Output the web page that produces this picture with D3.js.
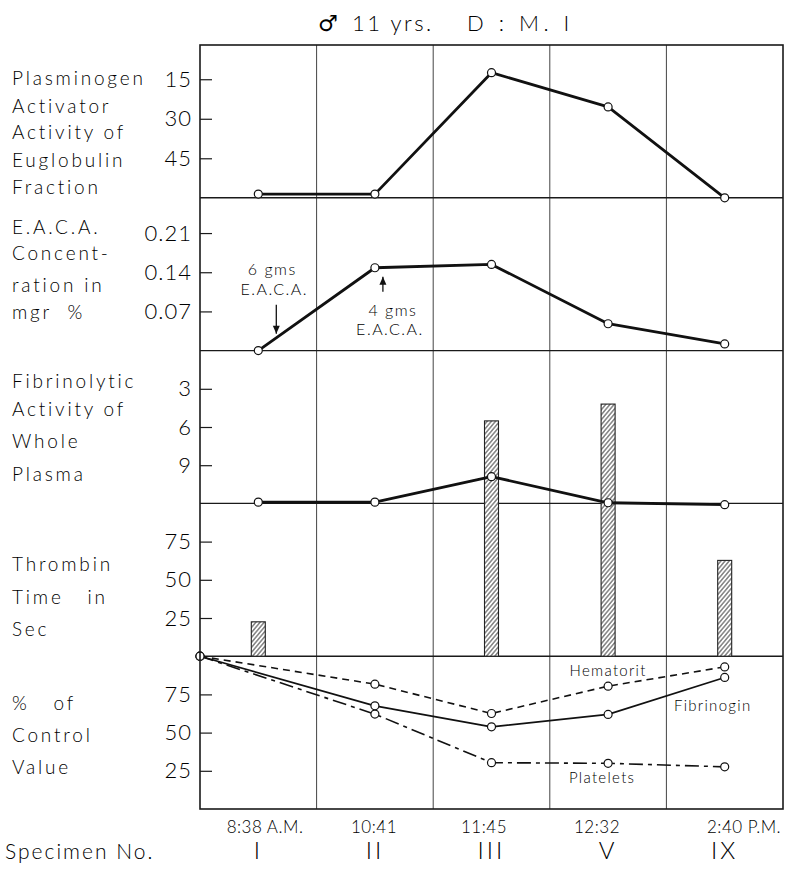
<!DOCTYPE html>
<html>
<head>
<meta charset="utf-8">
<script src="https://cdn.jsdelivr.net/npm/d3@7"></script>
<style>
  html, body { margin: 0; padding: 0; background: #fff; }
  svg { display: block; }
  text { font-family: Lato, "Open Sans", "DejaVu Sans", sans-serif; fill: #000; }
  .lt { font-weight: 300; }
  .sym { font-family: "DejaVu Sans", sans-serif; font-weight: 400; }
</style>
</head>
<body>
<svg id="chart" width="795" height="869"></svg>
<script>
// Specimens drawn across the time course
const specimens = ["I", "II", "III", "V", "IX"];
const sampleTimes = ["8:38 A.M.", "10:41", "11:45", "12:32", "2:40 P.M."];

// Plasminogen activator activity of euglobulin fraction (axis runs downward)
const plasminogenActivity = [58.6, 58.6, 12.5, 25.5, 60];
const plasminogenTicks = [15, 30, 45];

// E.A.C.A. concentration in mgr %
const eacaConcentration = [0.0, 0.148, 0.154, 0.048, 0.012];
const eacaTicks = [0.07, 0.14, 0.21];

// Fibrinolytic activity of whole plasma (axis runs downward)
const fibrinolyticActivity = [11.9, 11.9, 9.9, 11.95, 12.1];
const fibrinolyticTicks = [3, 6, 9];

// Thrombin time in seconds (bars)
const thrombinTime = [22.5, null, 154, 165, 62.7];
const thrombinTicks = [25, 50, 75];

// % of control value, starting from the control at 100 %
const controlPoints = ["Control", "II", "III", "V", "IX"];
const hematorit = [100, 81.7, 62.5, 80.4, 93.0];
const fibrinogin = [100, 67.5, 53.8, 61.9, 86.1];
const platelets = [100, 62.1, 30.3, 29.9, 27.6];
const controlTicks = [25, 50, 75];

const svg = d3.select("#chart");

const plotLeft = 200, plotRight = 783, plotTop = 45, plotBottom = 809;
const panelH = (plotBottom - plotTop) / 5;
const panelTop = i => plotTop + i * panelH;
const panelBottom = i => plotTop + (i + 1) * panelH;

const x = d3.scaleBand().domain(specimens).range([plotLeft, plotRight]).padding(0);
const cx = s => x(s) + x.bandwidth() / 2;
const cxControl = s => s === "Control" ? plotLeft : cx(s);

// Per-panel value scales
const y1 = d3.scaleLinear().domain([2, 60]).range([panelTop(0), panelBottom(0)]);
const y2 = d3.scaleLinear().domain([0, 0.273]).range([panelBottom(1), panelTop(1)]);
const y3 = d3.scaleLinear().domain([0, 12]).range([panelTop(2), panelBottom(2)]);
const y4 = d3.scaleLinear().domain([0, 100]).range([panelBottom(3), panelTop(3)]);
const y5 = d3.scaleLinear().domain([0, 100]).range([panelBottom(4), panelTop(4)]);

// Hatch pattern for the thrombin bars
const defs = svg.append("defs");
const pat = defs.append("pattern")
  .attr("id", "hatch").attr("patternUnits", "userSpaceOnUse")
  .attr("width", 3.2).attr("height", 3.2)
  .attr("patternTransform", "rotate(40)");
pat.append("rect").attr("width", 3.2).attr("height", 3.2).attr("fill", "#fff");
pat.append("line").attr("x1", 0.8).attr("y1", 0).attr("x2", 0.8).attr("y2", 3.2)
  .attr("stroke", "#444").attr("stroke-width", 1);

// Vertical grid lines between specimens
const grid = svg.append("g");
specimens.slice(1).forEach(s => {
  grid.append("line")
    .attr("x1", x(s)).attr("x2", x(s))
    .attr("y1", plotTop).attr("y2", plotBottom)
    .attr("stroke", "#444").attr("stroke-width", 1);
});

// Panel dividers
for (let i = 1; i < 5; i++) {
  svg.append("line")
    .attr("x1", plotLeft).attr("x2", plotRight)
    .attr("y1", panelTop(i)).attr("y2", panelTop(i))
    .attr("stroke", "#1a1a1a").attr("stroke-width", 1.4);
}

// Axes with inward ticks
function drawAxis(scale, ticks, fmt) {
  const g = svg.append("g").attr("transform", `translate(${plotLeft},0)`)
    .call(d3.axisLeft(scale).tickValues(ticks).tickSize(-12).tickPadding(8).tickFormat(fmt));
  g.select(".domain").remove();
  g.selectAll(".tick line").attr("stroke", "#1a1a1a").attr("stroke-width", 1.2);
  g.selectAll(".tick text")
    .attr("class", "lt")
    .style("font-family", 'Lato, "Open Sans", sans-serif')
    .attr("font-size", 22).attr("letter-spacing", 1).attr("fill", "#000");
}
drawAxis(y1, plasminogenTicks, d3.format("d"));
drawAxis(y2, eacaTicks, d3.format(".2f"));
drawAxis(y3, fibrinolyticTicks, d3.format("d"));
drawAxis(y4, thrombinTicks, d3.format("d"));
drawAxis(y5, controlTicks, d3.format("d"));

// Thrombin time bars (extend above their panel when beyond 100 s)
const barW = 14;
svg.append("g").selectAll("rect")
  .data(specimens.map((s, i) => ({ s, v: thrombinTime[i] })).filter(d => d.v != null))
  .join("rect")
  .attr("x", d => cx(d.s) - barW / 2)
  .attr("width", barW)
  .attr("y", d => y4(d.v))
  .attr("height", d => y4(0) - y4(d.v))
  .attr("fill", "url(#hatch)")
  .attr("stroke", "#222").attr("stroke-width", 1.1);

// Heavy lines with open circles
function drawSeries(xs, ys, scale, opts) {
  const pts = xs.map((s, i) => [opts.xf(s), scale(ys[i])]);
  svg.append("path")
    .attr("d", d3.line()(pts))
    .attr("fill", "none")
    .attr("stroke", "#111")
    .attr("stroke-width", opts.width)
    .attr("stroke-dasharray", opts.dash || null)
    .attr("stroke-linejoin", "round");
  svg.append("g").selectAll("circle").data(pts).join("circle")
    .attr("cx", d => d[0]).attr("cy", d => d[1]).attr("r", opts.r || 4)
    .attr("fill", "#fff").attr("stroke", "#111").attr("stroke-width", 1.2);
}
drawSeries(specimens, plasminogenActivity, y1, { xf: cx, width: 2.8 });
drawSeries(specimens, eacaConcentration, y2, { xf: cx, width: 2.8 });
drawSeries(specimens, fibrinolyticActivity, y3, { xf: cx, width: 2.8 });
drawSeries(controlPoints, hematorit, y5, { xf: cxControl, width: 1.6, dash: "7,5" });
drawSeries(controlPoints, fibrinogin, y5, { xf: cxControl, width: 1.7 });
drawSeries(controlPoints, platelets, y5, { xf: cxControl, width: 1.6, dash: "14,5,4,5" });

// Outer frame
svg.append("rect")
  .attr("x", plotLeft).attr("y", plotTop)
  .attr("width", plotRight - plotLeft).attr("height", plotBottom - plotTop)
  .attr("fill", "none").attr("stroke", "#1a1a1a").attr("stroke-width", 1.6);

// Series labels in the bottom panel
const small = (t, px, py) => svg.append("text").attr("class", "lt").attr("x", px).attr("y", py)
  .attr("text-anchor", "middle").attr("font-size", 15).attr("letter-spacing", 1.3).text(t);
small("Hematorit", cx("V"), y5(87));
small("Fibrinogin", cx("IX") - 12, y5(64));
small("Platelets", cx("V") - 6, y5(17));

// E.A.C.A. dosage notes
const note = (t, px, py) => svg.append("text").attr("class", "lt").attr("x", px).attr("y", py)
  .attr("text-anchor", "middle").attr("font-size", 16).attr("letter-spacing", 1.5).text(t);
function arrow(px, yFrom, yTo) {
  const dir = Math.sign(yTo - yFrom);
  svg.append("line").attr("x1", px).attr("x2", px).attr("y1", yFrom).attr("y2", yTo)
    .attr("stroke", "#111").attr("stroke-width", 1.3);
  svg.append("path")
    .attr("d", `M${px - 3.5},${yTo - dir * 8} L${px},${yTo} L${px + 3.5},${yTo - dir * 8} Z`)
    .attr("fill", "#111");
}
const a1x = cx("I") + 18;
note("6 gms", a1x - 4, y2(0.135));
note("E.A.C.A.", a1x - 2, y2(0.1));
arrow(a1x, y2(0.082), y2(0.03));
const a2x = cx("II") + 8;
arrow(a2x, y2(0.105), y2(0.132));
note("4 gms", a2x + 10, y2(0.062));
note("E.A.C.A.", a2x + 7, y2(0.028));

// Row labels on the left
const rowLabels = [
  { lines: ["Plasminogen", "Activator", "Activity of", "Euglobulin", "Fraction"], ys: [85, 113, 139, 167, 194] },
  { lines: ["E.A.C.A.", "Concent-", "ration in", "mgr  %"], ys: [234, 260, 292, 319] },
  { lines: ["Fibrinolytic", "Activity of", "Whole", "Plasma"], ys: [388, 416, 448, 481] },
  { lines: ["Thrombin", "Time   in", "Sec"], ys: [571, 604, 636] },
  { lines: ["%   of", "Control", "Value"], ys: [710, 742, 774] }
];
rowLabels.forEach(r => r.lines.forEach((t, i) => {
  svg.append("text").attr("class", "lt").attr("x", 12).attr("y", r.ys[i])
    .attr("font-size", 19).attr("letter-spacing", 2.8)
    .style("white-space", "pre").text(t);
}));

// Sampling times and specimen numbers
svg.append("g").selectAll("text").data(sampleTimes).join("text")
  .attr("class", "lt")
  .attr("x", (d, i) => [265, 374, 484, 597, 744][i])
  .attr("y", 833).attr("text-anchor", "middle")
  .attr("font-size", 17).attr("letter-spacing", 0.5).text(d => d);
svg.append("g").selectAll("text").data(specimens).join("text")
  .attr("class", "lt")
  .attr("x", d => cx(d)).attr("y", 859).attr("text-anchor", "middle")
  .attr("font-size", 24).attr("letter-spacing", 3).text(d => d);
svg.append("text").attr("class", "lt").attr("x", 5).attr("y", 859)
  .attr("font-size", 21).attr("letter-spacing", 2).text("Specimen No.");

// Title
svg.append("text").attr("class", "sym").attr("x", 318).attr("y", 31).attr("font-size", 22).text("♂");
svg.append("text").attr("class", "lt").attr("x", 352).attr("y", 31).attr("font-size", 22)
  .attr("letter-spacing", 2.5).text("11 yrs.");
svg.append("text").attr("class", "lt").attr("x", 467).attr("y", 31).attr("font-size", 22)
  .attr("letter-spacing", 4.5).style("white-space", "pre").text("D : M. I");
</script>
</body>
</html>
